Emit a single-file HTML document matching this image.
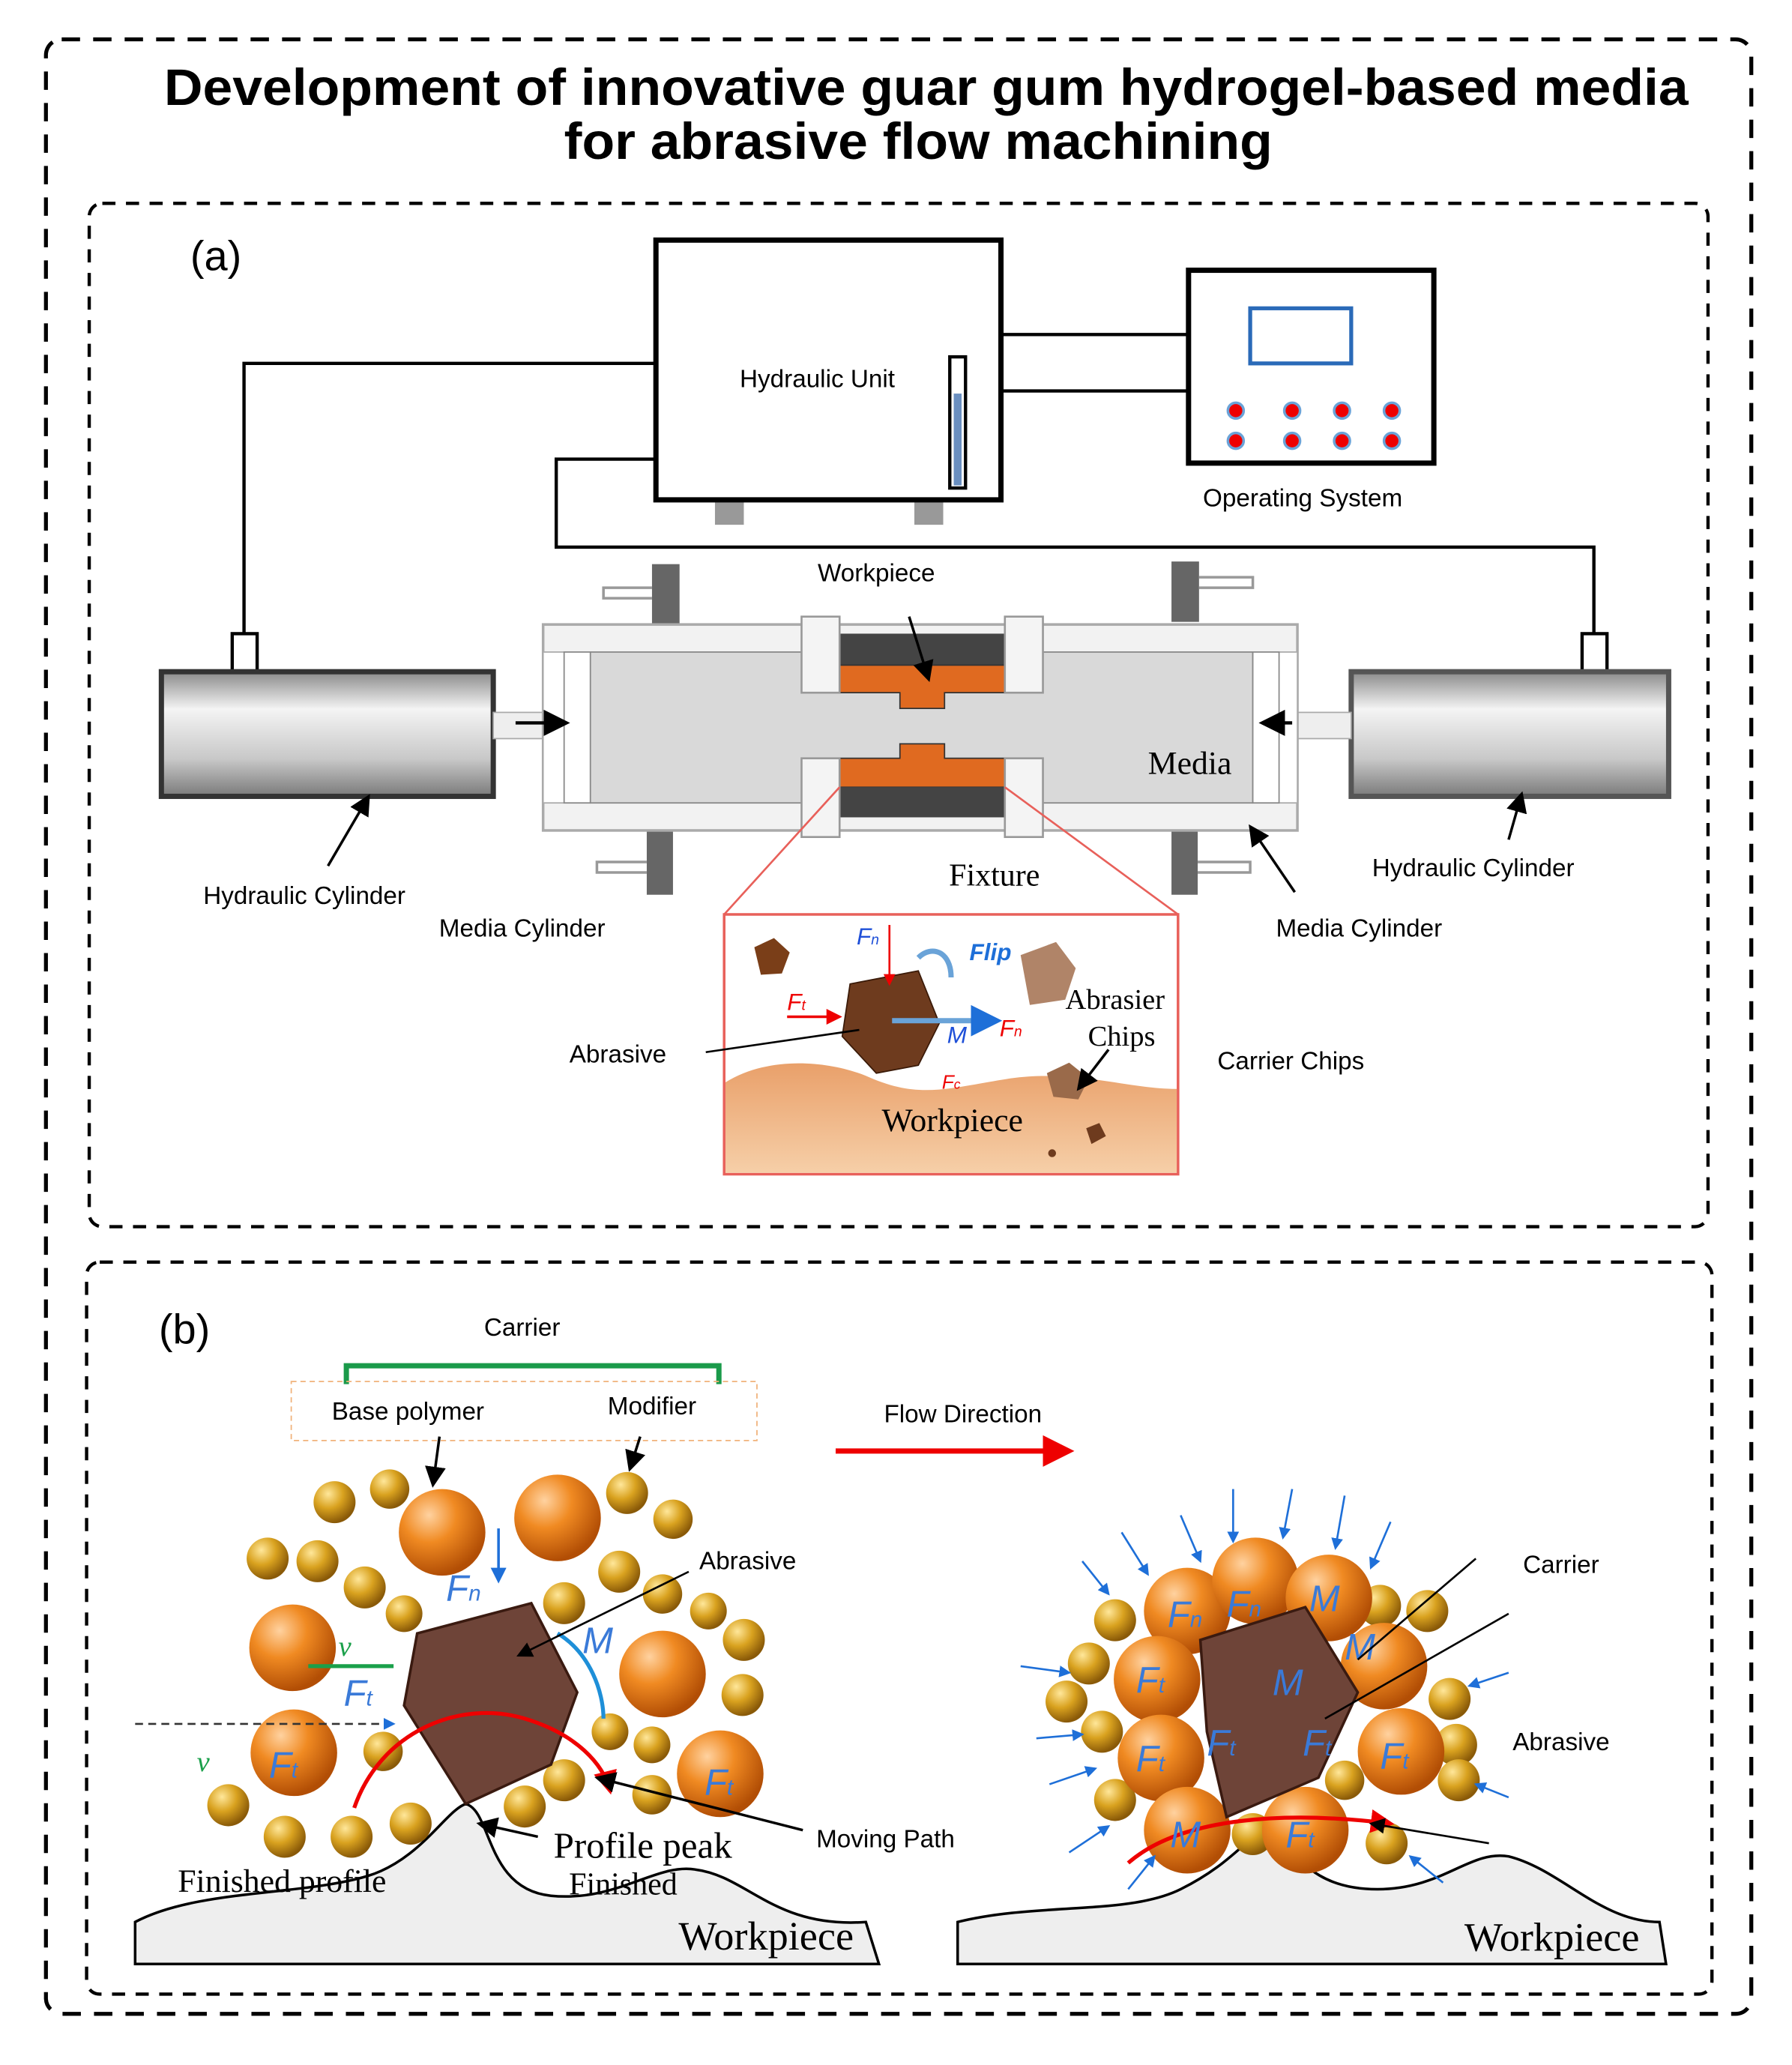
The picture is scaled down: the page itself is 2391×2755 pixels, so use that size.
<!DOCTYPE html>
<html><head><meta charset="utf-8"><style>
html,body{margin:0;padding:0;background:#fff}
svg{display:block}
text{font-family:"Liberation Sans",sans-serif}
.s{font-family:"Liberation Serif",serif}
</style></head><body>
<svg width="2391" height="2755" viewBox="0 0 1366 1574" xmlns="http://www.w3.org/2000/svg">
<defs>
<radialGradient id="gold" cx="35%" cy="30%" r="70%"><stop offset="0" stop-color="#ffe79a"/><stop offset=".5" stop-color="#d9a21f"/><stop offset="1" stop-color="#8a5a08"/></radialGradient>
<radialGradient id="org" cx="35%" cy="30%" r="70%"><stop offset="0" stop-color="#ffd2a0"/><stop offset=".45" stop-color="#f08a22"/><stop offset="1" stop-color="#b24e05"/></radialGradient>
<linearGradient id="cyl" x1="0" y1="0" x2="0" y2="1"><stop offset="0" stop-color="#8a8a8a"/><stop offset=".3" stop-color="#f4f4f4"/><stop offset=".7" stop-color="#c8c8c8"/><stop offset="1" stop-color="#7a7a7a"/></linearGradient>
<linearGradient id="ws" x1="0" y1="0" x2="0" y2="1"><stop offset="0" stop-color="#e9a06a"/><stop offset="1" stop-color="#f6cfa8"/></linearGradient>
<marker id="ab" markerWidth="8" markerHeight="8" refX="7" refY="4" orient="auto"><path d="M0,0L8,4L0,8z" fill="#000"/></marker>
<marker id="ar" markerWidth="6" markerHeight="6" refX="5" refY="3" orient="auto"><path d="M0,0L6,3L0,6z" fill="#e00"/></marker>
<marker id="abl" markerWidth="6" markerHeight="6" refX="5" refY="3" orient="auto"><path d="M0,0L6,3L0,6z" fill="#1e6fd8"/></marker>
</defs>
<rect x="35" y="30" width="1300" height="1505" rx="12" fill="none" stroke="#000" stroke-width="3" stroke-dasharray="14 10"/>
<text x="125" y="80" font-size="39" font-weight="bold" textLength="1162" lengthAdjust="spacingAndGlyphs">Development of innovative guar gum hydrogel-based media</text>
<text x="430" y="121" font-size="39" font-weight="bold" textLength="540" lengthAdjust="spacingAndGlyphs">for abrasive flow machining</text>
<rect x="68" y="155" width="1234" height="780" rx="10" fill="none" stroke="#000" stroke-width="2.5" stroke-dasharray="10 8"/>
<rect x="66" y="962" width="1239" height="558" rx="10" fill="none" stroke="#000" stroke-width="2.5" stroke-dasharray="10 8"/>
<text x="145" y="206" font-size="32">(a)</text>
<text x="121" y="1024" font-size="32">(b)</text>
<g fill="none" stroke="#000" stroke-width="2.5">
<path d="M500 277H186V483"/><path d="M763 255H906M763 298H906"/><path d="M500 350H424V417H1215V483"/>
</g>
<rect x="545" y="378" width="22" height="22" fill="#999"/><rect x="697" y="378" width="22" height="22" fill="#999"/>
<rect x="500" y="183" width="263" height="198" fill="#fff" stroke="#000" stroke-width="4"/>
<text x="623" y="295" font-size="19" text-anchor="middle">Hydraulic Unit</text>
<rect x="724" y="272" width="12" height="100" fill="#fff" stroke="#000" stroke-width="2.5"/><rect x="727" y="300" width="6" height="70" fill="#6a8fc0"/>
<rect x="906" y="206" width="187" height="147" fill="#fff" stroke="#000" stroke-width="4"/>
<rect x="953" y="235" width="77" height="42" fill="none" stroke="#2a6ab8" stroke-width="3"/>
<g fill="#e00" stroke="#6aa3d8" stroke-width="2"><circle cx="942" cy="313" r="6"/><circle cx="985" cy="313" r="6"/><circle cx="1023" cy="313" r="6"/><circle cx="1061" cy="313" r="6"/><circle cx="942" cy="336" r="6"/><circle cx="985" cy="336" r="6"/><circle cx="1023" cy="336" r="6"/><circle cx="1061" cy="336" r="6"/></g>
<text x="993" y="386" font-size="19" text-anchor="middle">Operating System</text>
<rect x="177" y="483" width="19" height="34" fill="#fff" stroke="#000" stroke-width="2.5"/>
<rect x="1206" y="483" width="19" height="34" fill="#fff" stroke="#000" stroke-width="2.5"/>
<rect x="123" y="512" width="253" height="95" fill="url(#cyl)" stroke="#333" stroke-width="4"/>
<rect x="1030" y="512" width="242" height="95" fill="url(#cyl)" stroke="#555" stroke-width="4"/>
<rect x="376" y="543" width="38" height="20" fill="#eee" stroke="#aaa"/><rect x="989" y="543" width="41" height="20" fill="#eee" stroke="#aaa"/>
<g fill="#666"><rect x="497" y="430" width="21" height="48"/><rect x="893" y="428" width="21" height="46"/><rect x="493" y="633" width="20" height="49"/><rect x="893" y="633" width="20" height="49"/></g>
<g fill="none" stroke="#999" stroke-width="2"><path d="M497 448H460V456H497M914 440H955V448H914M493 657H455V665H493M913 657H953V665H913"/></g>
<rect x="414" y="476" width="575" height="157" fill="#f2f2f2" stroke="#aaa" stroke-width="2"/>
<rect x="414" y="497" width="575" height="115" fill="#fff" stroke="#aaa"/>
<rect x="450" y="497" width="505" height="115" fill="#d9d9d9" stroke="#888"/>
<rect x="430" y="497" width="20" height="115" fill="#fff" stroke="#888"/><rect x="955" y="497" width="20" height="115" fill="#fff" stroke="#888"/>
<rect x="640" y="483" width="126" height="24" fill="#444"/>
<path d="M640 507H766V528H720V540H686V528H640Z" fill="#e06a20" stroke="#333"/>
<path d="M640 600H766V578H720V567H686V578H640Z" fill="#e06a20" stroke="#333"/>
<rect x="640" y="600" width="126" height="23" fill="#444"/>
<g fill="#f4f4f4" stroke="#999" stroke-width="1.5"><rect x="611" y="470" width="29" height="58"/><rect x="766" y="470" width="29" height="58"/><rect x="611" y="578" width="29" height="60"/><rect x="766" y="578" width="29" height="60"/></g>
<path d="M393 551H432" stroke="#000" stroke-width="2.5" marker-end="url(#ab)"/>
<path d="M985 551H962" stroke="#000" stroke-width="2.5" marker-end="url(#ab)"/>
<text x="668" y="443" font-size="19" text-anchor="middle">Workpiece</text>
<path d="M693 470L708 518" stroke="#000" stroke-width="2" marker-end="url(#ab)"/>
<text x="907" y="590" font-size="25" class="s" text-anchor="middle">Media</text>
<text x="758" y="675" font-size="24" class="s" text-anchor="middle">Fixture</text>
<path d="M250 660L281 607" stroke="#000" stroke-width="2" marker-end="url(#ab)"/>
<text x="232" y="689" font-size="19" text-anchor="middle">Hydraulic Cylinder</text>
<path d="M1150 640L1160 605" stroke="#000" stroke-width="2" marker-end="url(#ab)"/>
<text x="1123" y="668" font-size="19" text-anchor="middle">Hydraulic Cylinder</text>
<text x="398" y="714" font-size="19" text-anchor="middle">Media Cylinder</text>
<path d="M987 680L953 630" stroke="#000" stroke-width="2" marker-end="url(#ab)"/>
<text x="1036" y="714" font-size="19" text-anchor="middle">Media Cylinder</text>
<path d="M640 600L552 697M766 600L898 697" stroke="#e8605a" stroke-width="1.5"/>
<rect x="552" y="697" width="346" height="198" fill="#fff" stroke="#e8605a" stroke-width="2"/>
<path d="M553 825C585 805 630 808 660 820C700 838 720 830 770 822C820 815 860 830 897 830V894H553Z" fill="url(#ws)"/>
<polygon points="648,750 700,740 716,780 700,812 668,818 642,790" fill="#6e3b1e" stroke="#3a1a08"/>
<polygon points="575,722 590,715 602,726 596,742 580,743" fill="#7a3e18"/>
<polygon points="778,728 805,718 820,738 812,762 785,766" fill="#b08468"/>
<polygon points="798,818 815,810 830,822 822,838 803,836" fill="#9a6a4a"/>
<polygon points="828,860 838,856 843,866 832,872" fill="#6e3b1e"/><circle cx="802" cy="879" r="3" fill="#6e3b1e"/>
<path d="M600 775H640" stroke="#e00" stroke-width="2" marker-end="url(#ar)"/>
<path d="M678 705V750" stroke="#e00" stroke-width="1.5" marker-end="url(#ar)"/>
<path d="M680 778H760" stroke="#6aa3d8" stroke-width="4" marker-end="url(#abl)"/>
<path d="M700 730C710 720 725 725 725 745" fill="none" stroke="#6aa3d8" stroke-width="4"/>
<g font-style="italic" class="s" font-size="18"><text x="653" y="720" fill="#1e4fd8">F<tspan font-size="11">n</tspan></text><text x="739" y="732" fill="#1e6fd8" font-weight="bold">Flip</text><text x="600" y="770" fill="#e00">F<tspan font-size="11">t</tspan></text><text x="722" y="795" fill="#1e4fd8">M</text><text x="762" y="790" fill="#e00">F<tspan font-size="11">n</tspan></text><text x="718" y="830" fill="#e00" font-size="15">F<tspan font-size="10">c</tspan></text></g>
<text x="850" y="769" font-size="22" class="s" text-anchor="middle">Abrasier</text>
<text x="855" y="797" font-size="22" class="s" text-anchor="middle">Chips</text>
<path d="M845 800L822 830" stroke="#000" stroke-width="2" marker-end="url(#ab)"/>
<text x="726" y="862" font-size="25" class="s" text-anchor="middle">Workpiece</text>
<text x="471" y="810" font-size="19" text-anchor="middle">Abrasive</text>
<path d="M538 802L655 785" stroke="#000" stroke-width="1.5"/>
<text x="984" y="815" font-size="19" text-anchor="middle">Carrier Chips</text>
<text x="398" y="1018" font-size="19" text-anchor="middle">Carrier</text>
<path d="M264 1055V1041H548V1055" fill="none" stroke="#1a9a4a" stroke-width="4"/>
<rect x="222" y="1053" width="355" height="45" fill="none" stroke="#f0b27a" stroke-dasharray="4 3"/>
<text x="311" y="1082" font-size="19" text-anchor="middle">Base polymer</text>
<text x="497" y="1078" font-size="19" text-anchor="middle">Modifier</text>
<path d="M335 1095L330 1132" stroke="#000" stroke-width="2" marker-end="url(#ab)"/>
<path d="M488 1095L480 1120" stroke="#000" stroke-width="2" marker-end="url(#ab)"/>
<text x="734" y="1084" font-size="19" text-anchor="middle">Flow Direction</text>
<path d="M637 1106H815" stroke="#e00" stroke-width="4" marker-end="url(#ar)"/>
<path d="M103 1465C150 1440 230 1445 280 1430C320 1418 340 1380 355 1375C375 1380 370 1440 420 1445C470 1450 500 1420 530 1425C570 1430 590 1470 660 1465L670 1497H103Z" fill="#eee" stroke="#000" stroke-width="2"/>
<path d="M730 1465C790 1450 860 1460 900 1440C940 1420 950 1400 965 1395C985 1400 990 1440 1050 1440C1100 1440 1120 1410 1150 1415C1190 1425 1220 1465 1265 1465L1270 1497H730Z" fill="#eee" stroke="#000" stroke-width="2"/>
<g fill="url(#gold)">
<circle cx="255" cy="1145" r="16"/><circle cx="297" cy="1135" r="15"/><circle cx="204" cy="1188" r="16"/><circle cx="242" cy="1190" r="16"/><circle cx="278" cy="1210" r="16"/><circle cx="308" cy="1230" r="14"/><circle cx="478" cy="1138" r="16"/><circle cx="513" cy="1158" r="15"/><circle cx="472" cy="1198" r="16"/><circle cx="505" cy="1215" r="15"/><circle cx="430" cy="1222" r="16"/><circle cx="540" cy="1228" r="14"/><circle cx="567" cy="1250" r="16"/><circle cx="566" cy="1292" r="16"/><circle cx="465" cy="1320" r="14"/><circle cx="497" cy="1330" r="14"/><circle cx="292" cy="1335" r="15"/><circle cx="430" cy="1357" r="16"/><circle cx="400" cy="1377" r="16"/><circle cx="174" cy="1376" r="16"/><circle cx="217" cy="1400" r="16"/><circle cx="268" cy="1400" r="16"/><circle cx="313" cy="1390" r="16"/><circle cx="497" cy="1368" r="15"/>
<circle cx="850" cy="1235" r="16"/><circle cx="830" cy="1268" r="16"/><circle cx="813" cy="1297" r="16"/><circle cx="840" cy="1320" r="16"/><circle cx="850" cy="1372" r="16"/><circle cx="1052" cy="1224" r="16"/><circle cx="1088" cy="1228" r="16"/><circle cx="1105" cy="1295" r="16"/><circle cx="1110" cy="1330" r="16"/><circle cx="1112" cy="1357" r="16"/><circle cx="1025" cy="1357" r="15"/><circle cx="955" cy="1398" r="16"/><circle cx="1057" cy="1405" r="16"/>
</g>
<g fill="url(#org)">
<circle cx="337" cy="1168" r="33"/><circle cx="425" cy="1157" r="33"/><circle cx="223" cy="1256" r="33"/><circle cx="505" cy="1276" r="33"/><circle cx="224" cy="1336" r="33"/><circle cx="549" cy="1352" r="33"/>
<circle cx="905" cy="1228" r="33"/><circle cx="957" cy="1205" r="33"/><circle cx="1013" cy="1218" r="33"/><circle cx="882" cy="1280" r="33"/><circle cx="1055" cy="1270" r="33"/><circle cx="885" cy="1340" r="33"/><circle cx="1068" cy="1335" r="33"/><circle cx="905" cy="1395" r="33"/><circle cx="995" cy="1395" r="33"/>
</g>
<polygon points="318,1245 405,1222 440,1290 420,1345 355,1375 308,1300" fill="#6e4438" stroke="#3a1a10" stroke-width="2"/>
<polygon points="915,1250 995,1225 1035,1290 1005,1355 935,1385 920,1320" fill="#6e4438" stroke="#3a1a10" stroke-width="2"/>
<path d="M270 1378C290 1320 350 1295 400 1310C440 1322 460 1345 465 1365" fill="none" stroke="#e00" stroke-width="3" marker-end="url(#ar)"/>
<path d="M860 1420C900 1385 980 1380 1060 1390" fill="none" stroke="#e00" stroke-width="3" marker-end="url(#ar)"/>
<path d="M103 1314H300" stroke="#333" stroke-dasharray="6 4" stroke-width="1.5" marker-end="url(#abl)"/>
<path d="M235 1270H300" stroke="#1aa04a" stroke-width="3"/>
<path d="M380 1165V1205" stroke="#1e6fd8" stroke-width="2" marker-end="url(#abl)"/>
<path d="M425 1245C450 1260 460 1290 460 1310" fill="none" stroke="#1e8fd8" stroke-width="3"/>
<g font-style="italic" class="s" font-size="28" fill="#3a7ad8">
<text x="340" y="1220">F<tspan font-size="17">n</tspan></text><text x="444" y="1260">M</text><text x="262" y="1300">F<tspan font-size="17">t</tspan></text><text x="205" y="1355">F<tspan font-size="17">t</tspan></text><text x="537" y="1368">F<tspan font-size="17">t</tspan></text>
<text x="890" y="1240">F<tspan font-size="17">n</tspan></text><text x="935" y="1232">F<tspan font-size="17">n</tspan></text><text x="998" y="1228">M</text><text x="866" y="1290">F<tspan font-size="17">t</tspan></text><text x="970" y="1292">M</text><text x="1025" y="1265">M</text><text x="866" y="1350">F<tspan font-size="17">t</tspan></text><text x="920" y="1338">F<tspan font-size="17">t</tspan></text><text x="993" y="1338">F<tspan font-size="17">t</tspan></text><text x="1052" y="1348">F<tspan font-size="17">t</tspan></text><text x="892" y="1408">M</text><text x="980" y="1408">F<tspan font-size="17">t</tspan></text>
</g>
<text x="258" y="1262" font-size="22" font-style="italic" class="s" fill="#1aa04a">v</text>
<text x="150" y="1350" font-size="22" font-style="italic" class="s" fill="#1aa04a">v</text>
<text x="570" y="1196" font-size="19" text-anchor="middle">Abrasive</text>
<path d="M525 1198L395 1262" stroke="#000" stroke-width="1.5" marker-end="url(#ab)"/>
<path d="M612 1395L455 1355" stroke="#000" stroke-width="2" marker-end="url(#ab)"/>
<text x="675" y="1408" font-size="19" text-anchor="middle">Moving Path</text>
<path d="M410 1400L365 1390" stroke="#000" stroke-width="2" marker-end="url(#ab)"/>
<text x="490" y="1416" font-size="28" class="s" text-anchor="middle">Profile peak</text>
<text x="475" y="1444" font-size="24" class="s" text-anchor="middle">Finished</text>
<text x="215" y="1442" font-size="25" class="s" text-anchor="middle">Finished profile</text>
<text x="584" y="1486" font-size="31" class="s" text-anchor="middle">Workpiece</text>
<text x="1183" y="1487" font-size="31" class="s" text-anchor="middle">Workpiece</text>
<text x="1190" y="1199" font-size="19" text-anchor="middle">Carrier</text>
<path d="M1125 1188L1035 1265M1150 1230L1010 1310" stroke="#000" stroke-width="1.5"/>
<text x="1190" y="1334" font-size="19" text-anchor="middle">Abrasive</text>
<path d="M1135 1405L1045 1390" stroke="#000" stroke-width="1.5" marker-end="url(#ab)"/>
<g stroke="#1e6fd8" stroke-width="1.5" marker-end="url(#abl)">
<path d="M940 1135V1175"/><path d="M985 1135L978 1172"/><path d="M1025 1140L1018 1180"/><path d="M900 1155L915 1190"/><path d="M855 1168L875 1200"/><path d="M825 1190L845 1215"/><path d="M778 1270L815 1275"/><path d="M790 1325L825 1322"/><path d="M800 1360L835 1348"/><path d="M815 1412L845 1392"/><path d="M860 1440L880 1415"/><path d="M1150 1275L1120 1285"/><path d="M1150 1370L1125 1360"/><path d="M1100 1435L1075 1415"/><path d="M1060 1160L1045 1195"/>
</g>
</svg>
</body></html>
